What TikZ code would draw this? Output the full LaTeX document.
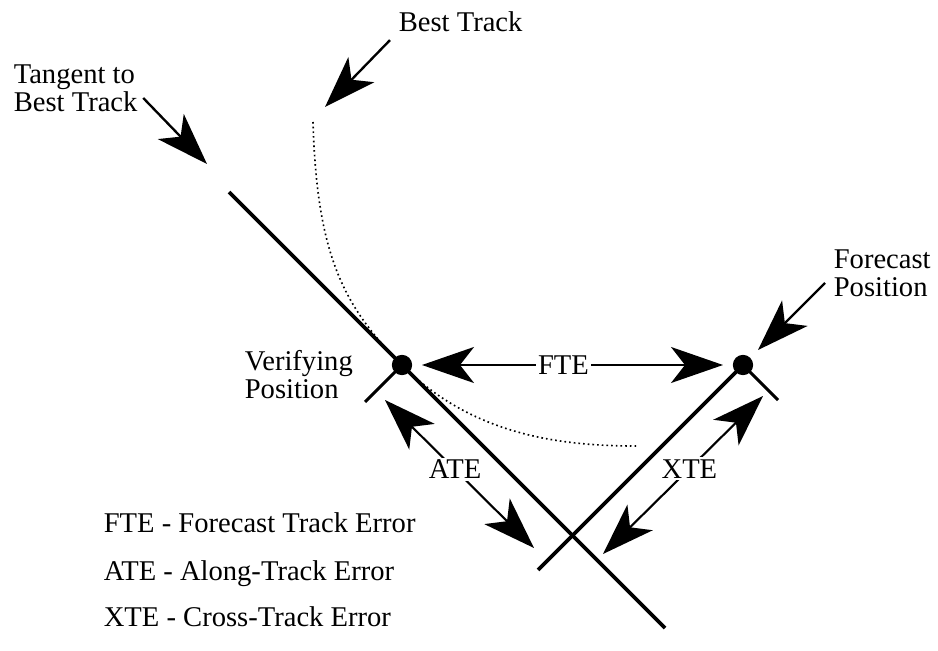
\documentclass[tikz,border=0pt]{standalone}
\usepackage{fontspec}
\setmainfont{Liberation Serif}
\usetikzlibrary{arrows.meta}
\usetikzlibrary{positioning}

\tikzset{bigtip/.tip={Stealth[length=0.78cm, width=0.54cm, inset=0.21cm]}}

\begin{document}
\begin{tikzpicture}[x=0.015cm, y=-0.015cm,
every node/.style={inner sep=1pt, font=\fontsize{12.2}{12}\selectfont},
track/.style={line width=1.6pt},
tickline/.style={line width=1.3pt},
pointer/.style={-bigtip, line width=1pt},
twoway/.style={bigtip-bigtip, line width=0.9pt},
posdot/.style={draw, circle, fill=black, inner sep=0pt, minimum size=0.29cm},
besttrk/.style={line width=0.7pt, dash pattern=on 0.7pt off 1.3pt}]
\useasboundingbox (0,0) rectangle (938,651);

% positions
\node[posdot] (verif) at (402,365) {};
\node[posdot] (fcst) at (743,365) {};
\coordinate (tanA) at (229,192);
\coordinate (tanB) at (665,628);
\coordinate (xA) at (538,570);
\coordinate (vtick) at (365,402);
\coordinate (ftick) at (778,400);

% best track (dotted)
\coordinate (bt0) at (313,122);
\coordinate (bt1) at (636,446);
\draw[besttrk] (bt0) .. controls (317,255) and (343,306) .. (verif.center)
  .. controls (470,433) and (555,446) .. (bt1);

% tangent and cross line
\draw[track] (tanA) -- (tanB);
\draw[track] (fcst.center) -- (xA);
\draw[tickline] (verif.center) -- (vtick);
\draw[tickline] (fcst.center) -- (ftick);

% labels
\node[anchor=west, align=left] (tanlbl) at (11,88) {Tangent to\\Best Track};
\node[anchor=base west] (btlbl) at (396,32) {Best Track};
\node[anchor=west, align=left] (veriflbl) at (242,375) {Verifying\\Position};
\node[anchor=west, align=left] (fcstlbl) at (831,273) {Forecast\\Position};

% pointers
\coordinate (tanTip) at (207,164);
\coordinate (btTip) at (325,107);
\coordinate (fcTip) at (758,350);
\draw[pointer] ([shift={(3,10)}]tanlbl.east) -- (tanTip);
\draw[pointer] ([shift={(-6,5)}]btlbl.south west) -- (btTip);
\draw[pointer] ([shift={(-6,10)}]fcstlbl.west) -- (fcTip);

% errors
\coordinate (fteA) at (422,365);
\coordinate (fteB) at (723,365);
\coordinate (ateA) at (385,400);
\coordinate (ateB) at (534,548);
\coordinate (xteA) at (763,396);
\coordinate (xteB) at (603,554);
\draw[twoway] (fteA) -- node[pos=0.47, fill=white] (fte) {FTE} (fteB);
\draw[twoway] (ateA) -- node[pos=0.47, fill=white] (ate) {ATE} (ateB);
\draw[twoway] (xteA) -- node[pos=0.46, fill=white] (xte) {XTE} (xteB);

% legend
\foreach \y/\txt [count=\i] in {532/FTE - Forecast Track Error,
  580/ATE - Along-Track Error, 626/XTE - Cross-Track Error}{
\node[anchor=base west] (key\i) at (101,\y) {\txt};}
\end{tikzpicture}
\end{document}
